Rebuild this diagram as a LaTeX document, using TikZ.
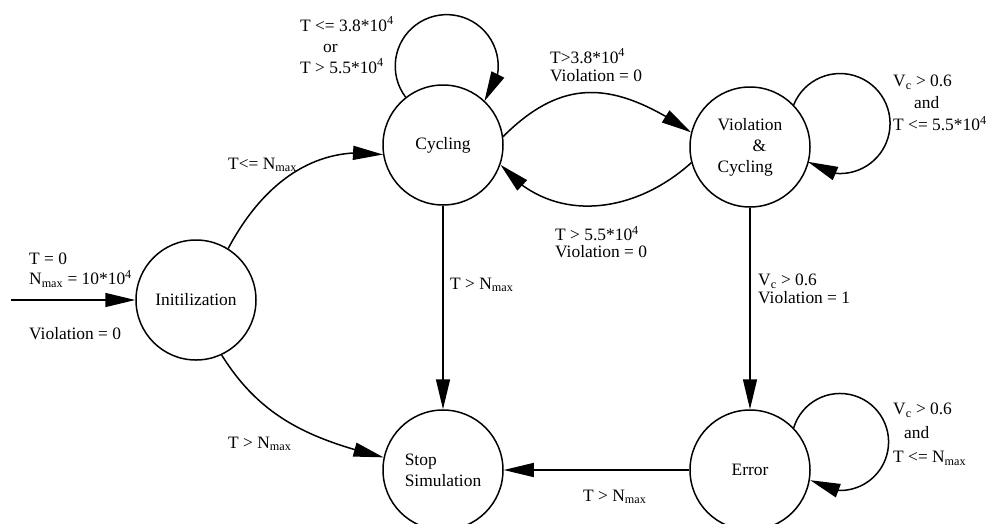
\documentclass[tikz,border=0pt]{standalone}
\usepackage{fontspec}
\setmainfont{Liberation Serif}
\usetikzlibrary{arrows.meta, bending}

\begin{document}
\begin{tikzpicture}[x=1pt, y=1pt,
    font=\fontsize{17.4}{21}\selectfont,
    state/.style={circle, draw, line width=1.5pt, minimum size=120pt, inner sep=0pt, align=center},
    arr/.style={line width=1.5pt, -{Triangle[length=30pt, width=14pt, flex]}},
    lbl/.style={inner sep=0pt, align=left, anchor=west}]

    % Khung hình
    \useasboundingbox (0,0) rectangle (1002,-523);

    % Các trạng thái
    \node[state] (init) at (196,-300) {Initilization};
    \node[state] (cyc) at (443,-145) {Cycling};
    \node[state, align=left] (viol) at (750,-147) {Violation\\\hspace*{35pt}\&\\Cycling};
    \node[state, align=left] (stop) at (443,-470) {Stop\\Simulation};
    \node[state] (err) at (750,-470) {Error};

    % Mũi tên vào
    \coordinate (in) at (11,-300);
    \draw[arr] (in) -- (init);
    \node[lbl, font=\fontsize{17.4}{20}\selectfont] (inA) at (29,-270) {T = 0\\N\textsubscript{max} = 10*10\textsuperscript{4}};
    \node[lbl, anchor=base west] (inB) at (29,-339) {Violation = 0};

    % Initilization -> Cycling, Initilization -> Stop
    \draw[arr] (init.58) to[out=62, in=171] (cyc.189);
    \node[lbl, anchor=base west] (ic) at (228,-169) {T<= N\textsubscript{max}};
    \draw[arr] (init.-65) to[out=-58, in=166] (stop.168);
    \node[lbl, anchor=base west] (is) at (228,-448) {T > N\textsubscript{max}};

    % Vòng lặp Cycling
    \draw[arr] (cyc.128) arc[start angle=217, end angle=-43, radius=51.5];
    \node[lbl] (cl) at (300,-45) {T <= 3.8*10\textsuperscript{4}\\\hspace*{23pt}or\\T > 5.5*10\textsuperscript{4}};

    % Cycling <-> Violation & Cycling
    \draw[arr] (cyc.8) to[out=45, in=146, looseness=1.2] (viol.166);
    \node[lbl, font=\fontsize{17.4}{18}\selectfont] (cv) at (550,-65) {T>3.8*10\textsuperscript{4}\\Violation = 0};
    \draw[arr] (viol.195) to[out=-138, in=-50, looseness=1.05] (cyc.-19);
    \node[lbl, font=\fontsize{17.4}{17}\selectfont] (vc) at (555,-242) {T > 5.5*10\textsuperscript{4}\\Violation = 0};

    % Vòng lặp Violation & Cycling
    \draw[arr] (viol.44) arc[start angle=158, end angle=-130, radius=50];
    \node[lbl, font=\fontsize{17.4}{22}\selectfont] (vl) at (893,-103) {V\textsubscript{c} > 0.6\\\hspace*{21pt}and\\T <= 5.5*10\textsuperscript{4}};

    % Cycling -> Stop, Violation -> Error
    \draw[arr] (cyc) -- (stop);
    \node[lbl, anchor=base west] (cs) at (450,-289) {T > N\textsubscript{max}};
    \draw[arr] (viol) -- (err);
    \node[lbl, font=\fontsize{17.4}{18}\selectfont] (ve) at (758,-289) {V\textsubscript{c} > 0.6\\Violation = 1};

    % Vòng lặp Error, Error -> Stop
    \draw[arr] (err.44) arc[start angle=163, end angle=-128, radius=48.5];
    \node[lbl, font=\fontsize{17.4}{24}\selectfont] (el) at (893,-434) {V\textsubscript{c} > 0.6\\\hspace*{11pt}and\\T <= N\textsubscript{max}};
    \draw[arr] (err) -- (stop);
    \node[lbl, anchor=base west] (es) at (583,-501) {T > N\textsubscript{max}};

\end{tikzpicture}
\end{document}
